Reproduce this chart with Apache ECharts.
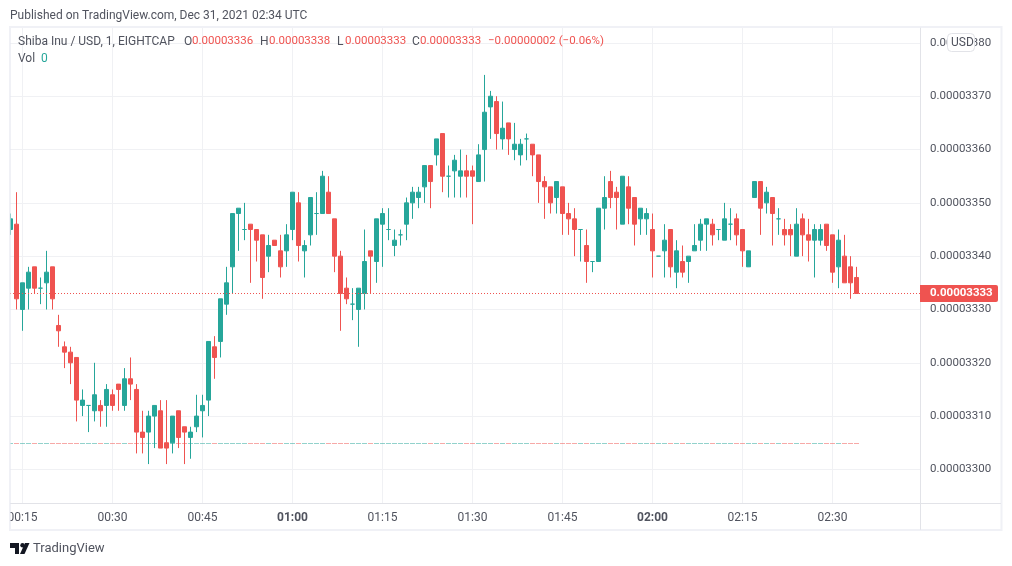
<!DOCTYPE html>
<html>
<head>
<meta charset="utf-8">
<style>
  html, body { margin: 0; padding: 0; background: #fff; }
  #chart { width: 1012px; height: 566px; }
</style>
<script src="https://cdn.jsdelivr.net/npm/echarts@6/dist/echarts.min.js"></script>
</head>
<body>
<div id="chart"></div>
<script>
// prices are in units of 0.00000001 USD, one bar per minute from 00:13
const firstMinute = 13
const opens = [3345,3346,3330,3334,3338,3334,3335,3338,3327,3323,3322,3321,3312,3312,3311,3312,3312,3314,3316,3312,3317,3315,3307,3307,3310,3311,3305,3305,3311,3308,3306,3308,3311,3313,3323,3324,3331,3338,3348,3345,3346,3345,3344,3340,3343,3341,3341,3345,3350,3341,3344,3348,3348,3352,3347,3340,3334,3331,3330,3333,3341,3339,3346,3345,3342,3344,3346,3350,3351,3353,3357,3359,3363,3355,3356,3355,3356,3356,3354,3360,3368,3369,3362,3365,3360,3359,3362,3361,3359,3354,3353,3351,3353,3348,3347,3345,3342,3339,3339,3349,3354,3352,3346,3353,3351,3347,3347,3345,3340,3341,3345,3337,3339,3339,3341,3343,3346,3346,3345,3343,3346,3347,3345,3338,3351,3354,3350,3351,3347,3345,3345,3340,3347,3344,3343,3343,3346,3344,3338,3340,3338,3336]
const closes = [3347,3332,3335,3337,3334,3334,3337,3332,3326,3322,3320,3313,3313,3312,3314,3311,3315,3312,3315,3317,3316,3307,3306,3310,3312,3304,3304,3310,3306,3307,3307,3310,3312,3324,3321,3332,3335,3348,3349,3345,3345,3343,3336,3342,3342,3338,3344,3352,3342,3342,3351,3348,3355,3348,3340,3333,3332,3331,3334,3339,3340,3347,3348,3345,3343,3344,3350,3352,3352,3357,3354,3362,3355,3355,3358,3356,3355,3355,3359,3367,3370,3363,3364,3362,3361,3361,3362,3359,3354,3353,3350,3354,3348,3347,3345,3345,3339,3339,3349,3351,3351,3351,3355,3349,3346,3349,3348,3341,3340,3343,3338,3341,3337,3340,3342,3346,3347,3344,3345,3347,3346,3344,3341,3341,3354,3349,3352,3348,3347,3344,3344,3346,3344,3343,3345,3345,3342,3337,3343,3335,3335,3333]
const lows = [3344,3330,3326,3330,3333,3331,3330,3330,3323,3319,3316,3309,3310,3307,3309,3308,3308,3311,3311,3311,3313,3303,3303,3301,3304,3304,3301,3303,3304,3301,3302,3307,3306,3310,3317,3321,3329,3333,3341,3343,3335,3339,3332,3337,3342,3336,3338,3343,3339,3336,3342,3344,3348,3348,3337,3326,3331,3328,3323,3330,3333,3335,3338,3343,3340,3342,3343,3347,3349,3350,3349,3357,3352,3351,3351,3351,3351,3346,3354,3354,3362,3360,3360,3359,3358,3357,3358,3355,3350,3347,3348,3348,3344,3344,3340,3339,3335,3337,3339,3345,3349,3345,3346,3346,3342,3344,3344,3336,3340,3336,3336,3334,3336,3335,3341,3341,3341,3342,3343,3343,3343,3342,3338,3338,3351,3344,3348,3342,3344,3342,3340,3340,3340,3339,3336,3342,3341,3335,3334,3335,3332,3333]
const highs = [3348,3352,3335,3338,3338,3336,3341,3338,3329,3324,3323,3321,3315,3312,3320,3313,3316,3315,3316,3319,3321,3316,3311,3311,3312,3313,3313,3310,3311,3308,3308,3314,3314,3324,3325,3332,3338,3348,3349,3350,3346,3345,3344,3344,3343,3344,3346,3352,3352,3343,3351,3352,3356,3355,3347,3341,3336,3334,3334,3345,3341,3347,3349,3349,3345,3345,3351,3353,3353,3357,3357,3362,3363,3357,3359,3360,3359,3357,3361,3374,3371,3370,3369,3365,3365,3362,3363,3361,3359,3355,3353,3354,3353,3350,3349,3345,3345,3339,3349,3355,3356,3353,3355,3355,3351,3349,3349,3348,3340,3346,3345,3343,3342,3340,3346,3347,3347,3347,3345,3350,3349,3348,3345,3341,3354,3354,3353,3351,3349,3347,3346,3349,3348,3347,3346,3346,3346,3344,3345,3344,3340,3338]
const volumes = new Array(opens.length).fill(0)

const priceTicks = [3300, 3310, 3320, 3330, 3340, 3350, 3360, 3370, 3380]
const timeTicks = [15, 30, 45, 60, 75, 90, 105, 120, 135, 150]
const timeLabels = ['00:15', '00:30', '00:45', '01:00', '01:15', '01:30', '01:45', '02:00', '02:15', '02:30']
const boldTimes = ['01:00', '02:00']

const upColor = '#26a69a'
const downColor = '#ef5350'
const textColor = '#50535e'
const gridColor = '#f0f1f4'
const paneLine = '#e2e3e8'
const fontName = 'Roboto, sans-serif'

const minutes = opens.map((_, i) => firstMinute + i)
const candles = opens.map((o, i) => [minutes[i], o, closes[i], lows[i], highs[i]])
const volumeBars = volumes.map((v, i) => ({
    value: [minutes[i], v],
    itemStyle: {color: closes[i] >= opens[i] ? upColor : downColor, opacity: 0.5}
}))
const lastClose = closes[closes.length - 1]

const formatPrice = v => (v * 1e-8).toFixed(8)

function label(text, x, y, color, extra) {
    return {
        type: 'text',
        z: 20,
        x: x,
        y: y,
        style: Object.assign({
            text: text,
            fill: color || textColor,
            font: '12px ' + fontName,
            verticalAlign: 'middle'
        }, extra)
    }
}

// same label for the numbers, they run a bit narrower in the header
const numLabel = (text, x, y, color) => label(text, x, y, color, {font: '11.5px ' + fontName})

const chart = echarts.init(document.getElementById('chart'))

chart.setOption({
    animation: false,
    backgroundColor: '#fff',
    grid: {left: 10, right: 92, top: 28, bottom: 63},
    xAxis: {
        type: 'value',
        min: firstMinute - 0.5 / 6,
        max: firstMinute + 909.5 / 6,
        axisLine: {onZero: false, lineStyle: {color: paneLine}},
        axisTick: {show: false, customValues: timeTicks},
        splitLine: {show: true, lineStyle: {color: gridColor}},
        axisLabel: {
            customValues: timeTicks,
            color: textColor,
            fontFamily: fontName,
            fontSize: 12,
            margin: 9,
            formatter: v => {
                const text = timeLabels[timeTicks.indexOf(v)]
                return boldTimes.includes(text) ? `{b|${text}}` : text
            },
            rich: {b: {fontWeight: 'bold', fontFamily: fontName, fontSize: 12, color: textColor}}
        }
    },
    yAxis: [{
        type: 'value',
        position: 'right',
        min: 3293.7,
        max: 3382.8,
        axisLine: {show: true, lineStyle: {color: paneLine}},
        axisTick: {show: false, customValues: priceTicks},
        splitLine: {show: true, lineStyle: {color: gridColor}},
        axisLabel: {
            customValues: priceTicks,
            color: textColor,
            fontFamily: fontName,
            fontSize: 11.5,
            margin: 10,
            padding: [4, 0, 0, 0],
            formatter: formatPrice
        }
    }, {
        // volume scale, only there to put the flat zero line where it is
        type: 'value',
        show: false,
        min: -59,
        max: 416,
        splitLine: {show: false}
    }],
    series: [{
        type: 'bar',
        yAxisIndex: 1,
        data: volumeBars,
        barWidth: 5,
        barMinHeight: 1,
        silent: true,
        clip: true
    }, {
        type: 'candlestick',
        data: candles,
        barWidth: 4,
        clip: true,
        encode: {x: 0, y: [1, 2, 3, 4]},
        itemStyle: {
            color: upColor,
            color0: downColor,
            borderColor: upColor,
            borderColor0: downColor,
            borderColorDoji: upColor,
            borderWidth: 1
        },
        markLine: {
            silent: true,
            symbol: 'none',
            label: {show: false},
            lineStyle: {color: downColor, type: [1, 2], width: 1},
            data: [{yAxis: lastClose}]
        }
    }],
    graphic: [
        // candlesticks are not cut at the pane edge, so mask what sticks out on the left
        {type: 'rect', z: 15, shape: {x: 0, y: 28, width: 10, height: 502}, style: {fill: '#fff'}},
        // outer frame and pane separators
        {type: 'rect', z: 16, shape: {x: 10, y: 27, width: 991.5, height: 503}, style: {fill: 'none', stroke: 'rgba(230,232,240,0.6)', lineWidth: 2}},
        {type: 'line', z: 10, shape: {x1: 10, y1: 503.5, x2: 1001, y2: 503.5}, style: {stroke: paneLine, lineWidth: 1}},
        {type: 'line', z: 10, shape: {x1: 920.5, y1: 28, x2: 920.5, y2: 530}, style: {stroke: paneLine, lineWidth: 1}},

        label('Published on TradingView.com, Dec 31, 2021 02:34 UTC', 10, 15.5),
        label('Shiba Inu / USD, 1, EIGHTCAP', 18, 41.5),
        label('O', 184, 41.5),
        numLabel('0.00003336', 192, 41.5, downColor),
        label('H', 260, 41.5),
        numLabel('0.00003338', 269, 41.5, downColor),
        label('L', 337, 41.5),
        numLabel('0.00003333', 345, 41.5, downColor),
        label('C', 412, 41.5),
        numLabel('0.00003333', 420, 41.5, downColor),
        numLabel('\u22120.00000002 (\u22120.06%)', 488, 41.5, downColor),
        label('Vol', 18, 58.5),
        label('0', 41, 58.5, upColor),

        // last price tag
        {type: 'rect', z: 18, shape: {x: 920, y: 285, width: 78, height: 17, r: [0, 2, 2, 0]}, style: {fill: downColor}},
        label(formatPrice(lastClose), 930, 293.5, '#fff', {font: 'bold 11.5px ' + fontName}),

        // currency badge over the top price
        {type: 'rect', z: 18, shape: {x: 947.5, y: 33.5, width: 27, height: 18, r: 4}, style: {fill: '#fff', stroke: paneLine, lineWidth: 1}},
        label('USD', 951, 43, textColor),

        // footer logo
        {type: 'polygon', z: 20, shape: {points: [[10, 543], [19, 543], [19, 554], [15, 554], [15, 548], [10, 548]]}, style: {fill: '#131722'}},
        {type: 'polygon', z: 20, shape: {points: [[25, 543], [29.5, 543], [24.5, 554], [20, 554]]}, style: {fill: '#131722'}},
        {type: 'circle', z: 20, shape: {cx: 22.5, cy: 545.2, r: 2.2}, style: {fill: '#131722'}},
        label('TradingView', 33, 548.5, textColor, {font: '13px ' + fontName})
    ]
})
</script>
</body>
</html>
